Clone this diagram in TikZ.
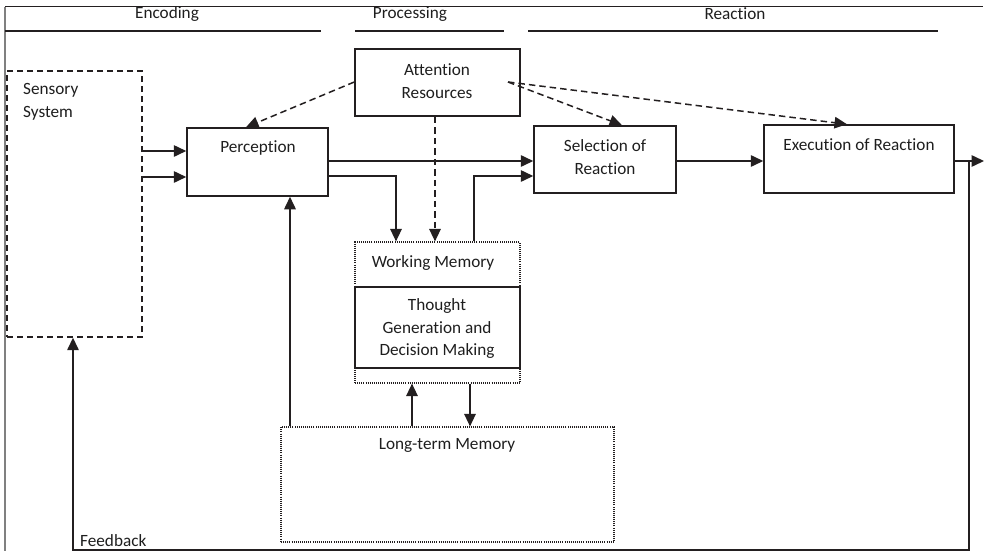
\documentclass[tikz,border=0pt]{standalone}
\usepackage{fontspec}
\setmainfont{Carlito}[Ligatures=NoCommon]
\usetikzlibrary{arrows.meta,fit}
\definecolor{ink}{RGB}{35,31,32}
\definecolor{txtc}{RGB}{30,30,30}
\begin{document}
\begin{tikzpicture}[x=1pt,y=-1pt,
  every node/.style={font=\fontsize{17.2}{22.5}\selectfont, text=txtc},
  solidbox/.style={draw=ink, line width=1.5pt, inner sep=0pt},
  dashbox/.style={draw=ink, line width=1.4pt, dash pattern=on 6pt off 4pt, inner sep=0pt},
  dotbox/.style={draw=ink, line width=1.2pt, dash pattern=on 1pt off 1.1pt, inner sep=0pt},
  txt/.style={inner sep=0pt, align=center},
  conn/.style={draw=ink, line width=1.5pt},
  arr/.style={conn, -{Triangle[length=12.5pt,width=11.5pt]}},
  darr/.style={arr, dash pattern=on 6.5pt off 4pt},
  rule/.style={draw=ink, line width=1.5pt}
]
\useasboundingbox (0,0) rectangle (984,551);

% frame
\coordinate (tl) at (5,7);
\coordinate (tr) at (983,7);
\coordinate (bl) at (5,551);
\draw[draw=ink, line width=1pt] (tl) -- (tr);
\draw[draw=gray, line width=1.5pt] (tl) -- (bl);

% header
\node[txt] (hEnc) at (167,14) {Encoding};
\node[txt] (hPro) at (410,14) {Processing};
\node[txt] (hRea) at (735,14) {Reaction};
\coordinate (u1a) at (5,31);   \coordinate (u1b) at (321,31);
\coordinate (u2a) at (355,31); \coordinate (u2b) at (504,31);
\coordinate (u3a) at (528,31); \coordinate (u3b) at (938,31);
\draw[rule] (u1a) -- (u1b);
\draw[rule] (u2a) -- (u2b);
\draw[rule] (u3a) -- (u3b);

% boxes
\node[dashbox, fit={(7,71) (142,337)}] (sens) {};
\node[txt, anchor=west, align=left] (tsens) at (23,102) {Sensory\\System};

\node[solidbox, fit={(187,128) (328,196)}] (perc) {};
\node[txt] (tperc) at (258,148) {Perception};

\node[solidbox, fit={(355,49) (520,116)}] (att) {};
\node[txt] (tatt) at (437,81) {Attention\\Resources};

\node[solidbox, fit={(534,126) (676,193)}] (sel) {};
\node[txt] (tsel) at (605,157) {Selection of\\Reaction};

\node[solidbox, fit={(764,125) (954,193)}] (exe) {};
\node[txt] (texe) at (859,145) {Execution of Reaction};

\node[dotbox, fit={(355,242) (520,383)}] (wm) {};
\node[txt] (twm) at (433,263) {Working Memory};

\node[solidbox, fit={(355,287) (520,368)}] (tho) {};
\node[txt] (ttho) at (437,329) {Thought\\Generation and\\Decision Making};

\node[dotbox, fit={(281,427) (614,542)}] (ltm) {};
\node[txt] (tltm) at (447,445) {Long-term Memory};

\node[txt, anchor=west] (tfb) at (80,541) {Feedback};

% connectors
\draw[arr] (sens.east |- 0,151) -- (perc.west |- 0,151);
\draw[arr] (sens.east |- 0,177) -- (perc.west |- 0,177);
\draw[arr] (perc.east |- 0,161) -- (sel.west |- 0,161);
\draw[arr] (perc.east |- 0,176) -| (396,0 |- wm.north);
\draw[arr] (474,0 |- wm.north) |- (sel.west |- 0,176);
\draw[arr] (sel.east |- 0,161) -- (exe.west |- 0,161);

\coordinate (out) at (984,161);
\draw[arr] (exe.east |- 0,161) -- (out);

\coordinate (fbtop) at (969,161);
\coordinate (fbr) at (969,550);
\coordinate (fbl) at (73,550);
\draw[arr] (fbtop) -- (fbr) -- (fbl) -- (fbl |- sens.south);

\draw[arr] (412,0 |- ltm.north) -- (412,0 |- wm.south);
\draw[arr] (470,0 |- wm.south) -- (470,0 |- ltm.north);
\draw[arr] (290,0 |- ltm.north) -- (290,0 |- perc.south);

% attention dashed arrows
\coordinate (attR) at (508,82);
\draw[darr] (att.west |- 0,82) -- (246,0 |- perc.north);
\draw[darr] (435,0 |- att.south) -- (435,0 |- wm.north);
\draw[darr] (attR) -- (622,0 |- sel.north);
\draw[darr] (attR) -- (847,0 |- exe.north);
\end{tikzpicture}
\end{document}
